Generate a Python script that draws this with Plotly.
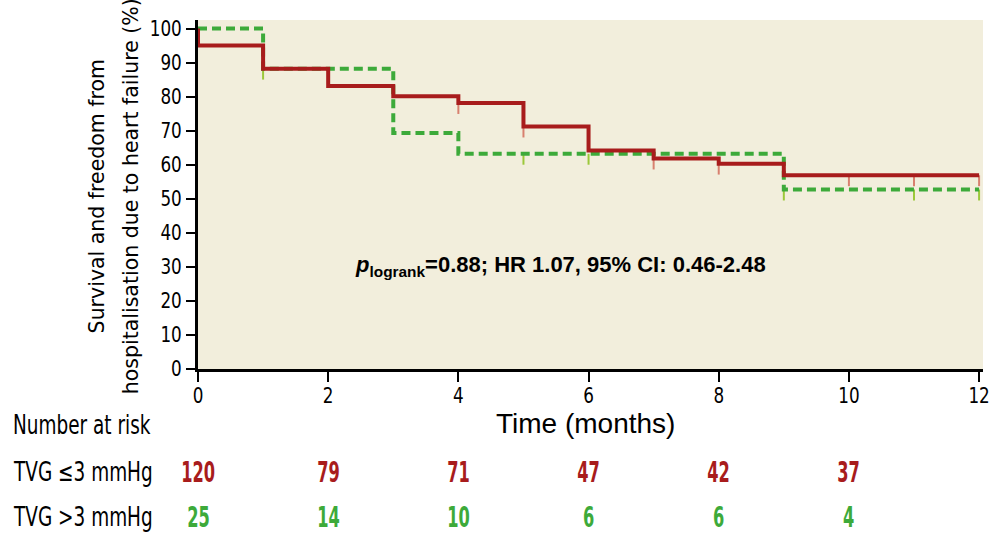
import plotly.graph_objects as go

# ---- data ----
red_t = [0, 0, 1, 2, 3, 4, 5, 6, 7, 8, 9, 12]
red_s = [100, 95, 88.2, 83.1, 80.1, 78.1, 71.2, 64.2, 61.8, 60.3, 56.9, 56.9]
green_t = [0, 1, 3, 4, 9, 12]
green_s = [100, 88.2, 69.3, 63.2, 52.7, 52.7]

red_cens_t = [4, 5, 7, 8, 10, 11, 12]
red_cens_s = [78.1, 71.2, 61.8, 60.3, 56.9, 56.9, 56.9]
green_cens_t = [1, 5, 6, 9, 11, 12]
green_cens_s = [88.2, 63.2, 63.2, 52.7, 52.7, 52.7]
cens_len = 3.2

risk_times = [0, 2, 4, 6, 8, 10]
risk_low = [120, 79, 71, 47, 42, 37]
risk_high = [25, 14, 10, 6, 6, 4]

x_ticks = [0, 2, 4, 6, 8, 10, 12]
y_ticks = [0, 10, 20, 30, 40, 50, 60, 70, 80, 90, 100]

RED = "#A81C1C"
GREEN = "#3DAA3A"
RED_C = "#D8806F"
GREEN_C = "#9CC83A"
BG = "#F2EEDC"
NARROW = "DejaVu Sans"
WIDE = "Liberation Sans"


def seg(ts, ss, L):
    xs, ys = [], []
    for t, s in zip(ts, ss):
        xs += [t, t, None]
        ys += [s, s - L, None]
    return xs, ys


fig = go.Figure()
cx, cy = seg(green_cens_t, green_cens_s, cens_len)
fig.add_trace(go.Scatter(x=cx, y=cy, mode="lines", line=dict(color=GREEN_C, width=2),
                         hoverinfo="skip", showlegend=False, cliponaxis=False))
cx, cy = seg(red_cens_t, red_cens_s, cens_len)
fig.add_trace(go.Scatter(x=cx, y=cy, mode="lines", line=dict(color=RED_C, width=2),
                         hoverinfo="skip", showlegend=False, cliponaxis=False))
fig.add_trace(go.Scatter(x=green_t, y=green_s, mode="lines", line_shape="hv",
                         line=dict(color=GREEN, width=4, dash="9px,5px"),
                         showlegend=False, cliponaxis=False))
fig.add_trace(go.Scatter(x=red_t, y=red_s, mode="lines", line_shape="hv",
                         line=dict(color=RED, width=4),
                         showlegend=False, cliponaxis=False))

fig.update_layout(
    width=1004, height=543,
    margin=dict(l=198, r=18, t=20, b=174),
    paper_bgcolor="white", plot_bgcolor=BG,
    font=dict(family=NARROW, size=21, color="black"),
    xaxis=dict(range=[0, 12.06], tickvals=x_ticks, showgrid=False, zeroline=False,
               showline=True, linecolor="black", linewidth=3, ticks="outside",
               ticklen=10, tickwidth=2, tickcolor="black", ticklabelstandoff=-4,
               tickfont=dict(family=NARROW, size=21)),
    yaxis=dict(range=[0, 102.5], tickvals=y_ticks, showgrid=False, zeroline=False,
               showline=True, linecolor="black", linewidth=3, ticks="outside",
               ticklen=9, tickwidth=2, tickcolor="black",
               tickfont=dict(family=NARROW, size=21)),
)

PW = 986 - 198


def px2x(px):
    return (px - 198) / PW


def py2y(py):
    return (369 - py) / 349.0


ann = []
for txt, px in [("Survival and freedom from", 97),
                ("hospitalisation due to heart failure (%)", 131)]:
    ann.append(dict(x=px2x(px), xref="paper", y=py2y(196), yref="paper",
                    xanchor="center", yanchor="middle", textangle=-90, showarrow=False,
                    text=txt, font=dict(family=NARROW, size=20.5)))
ann.append(dict(x=px2x(587), xref="paper", y=py2y(424), yref="paper", xanchor="center",
                yanchor="middle", showarrow=False, text="Time (months)",
                font=dict(family=WIDE, size=28)))
ann.append(dict(x=px2x(562), xref="paper", y=py2y(266), yref="paper",
                xanchor="center", yanchor="middle", showarrow=False,
                text="<b><i>p</i><sub>logrank</sub>=0.88; HR 1.07, 95% CI: 0.46-2.48</b>",
                font=dict(family=WIDE, size=22)))

for txt, py in [("Number at risk", 425), ("TVG ≤3 mmHg", 472), ("TVG >3 mmHg", 517)]:
    ann.append(dict(x=px2x(10), xref="paper", y=py2y(py), yref="paper", align="left",
                    xanchor="left", yanchor="middle", showarrow=False, text=txt,
                    font=dict(family=NARROW, size=26)))

for t, a, b in zip(risk_times, risk_low, risk_high):
    ann.append(dict(x=t, xref="x", y=py2y(472), yref="paper", xanchor="center",
                    yanchor="middle", showarrow=False, text=f"<b>{a}</b>",
                    font=dict(family=NARROW, size=28, color=RED)))
    ann.append(dict(x=t, xref="x", y=py2y(517), yref="paper", xanchor="center",
                    yanchor="middle", showarrow=False, text=f"<b>{b}</b>",
                    font=dict(family=NARROW, size=28, color=GREEN)))

fig.update_layout(annotations=ann)

post = """
var st = document.createElement('style');
st.textContent = 'html,body{margin:0;padding:0;overflow:hidden}';
document.head.appendChild(st);
var gd = document.getElementById('{plot_id}');
var F = {'21px':0.8, '26px':0.71, '28px':0.58};
gd.querySelectorAll('text').forEach(function(t){
  var f = F[t.style.fontSize];
  if (!f) return;
  if ((t.style.fontFamily || '').indexOf('DejaVu') < 0) return;
  var L = t.getComputedTextLength();
  if (L > 0) {
    t.setAttribute('textLength', (L * f).toFixed(2));
    t.setAttribute('lengthAdjust', 'spacingAndGlyphs');
    var g = t.parentNode;
    var r = g ? g.querySelector('rect.bg') : null;
    if (r) {
      var bb = t.getBBox();
      r.setAttribute('x', (bb.x - 1).toFixed(2));
      r.setAttribute('width', (bb.width + 2).toFixed(2));
    }
  }
});
"""
fig.write_html("out.html", post_script=post, config={"displayModeBar": False})
